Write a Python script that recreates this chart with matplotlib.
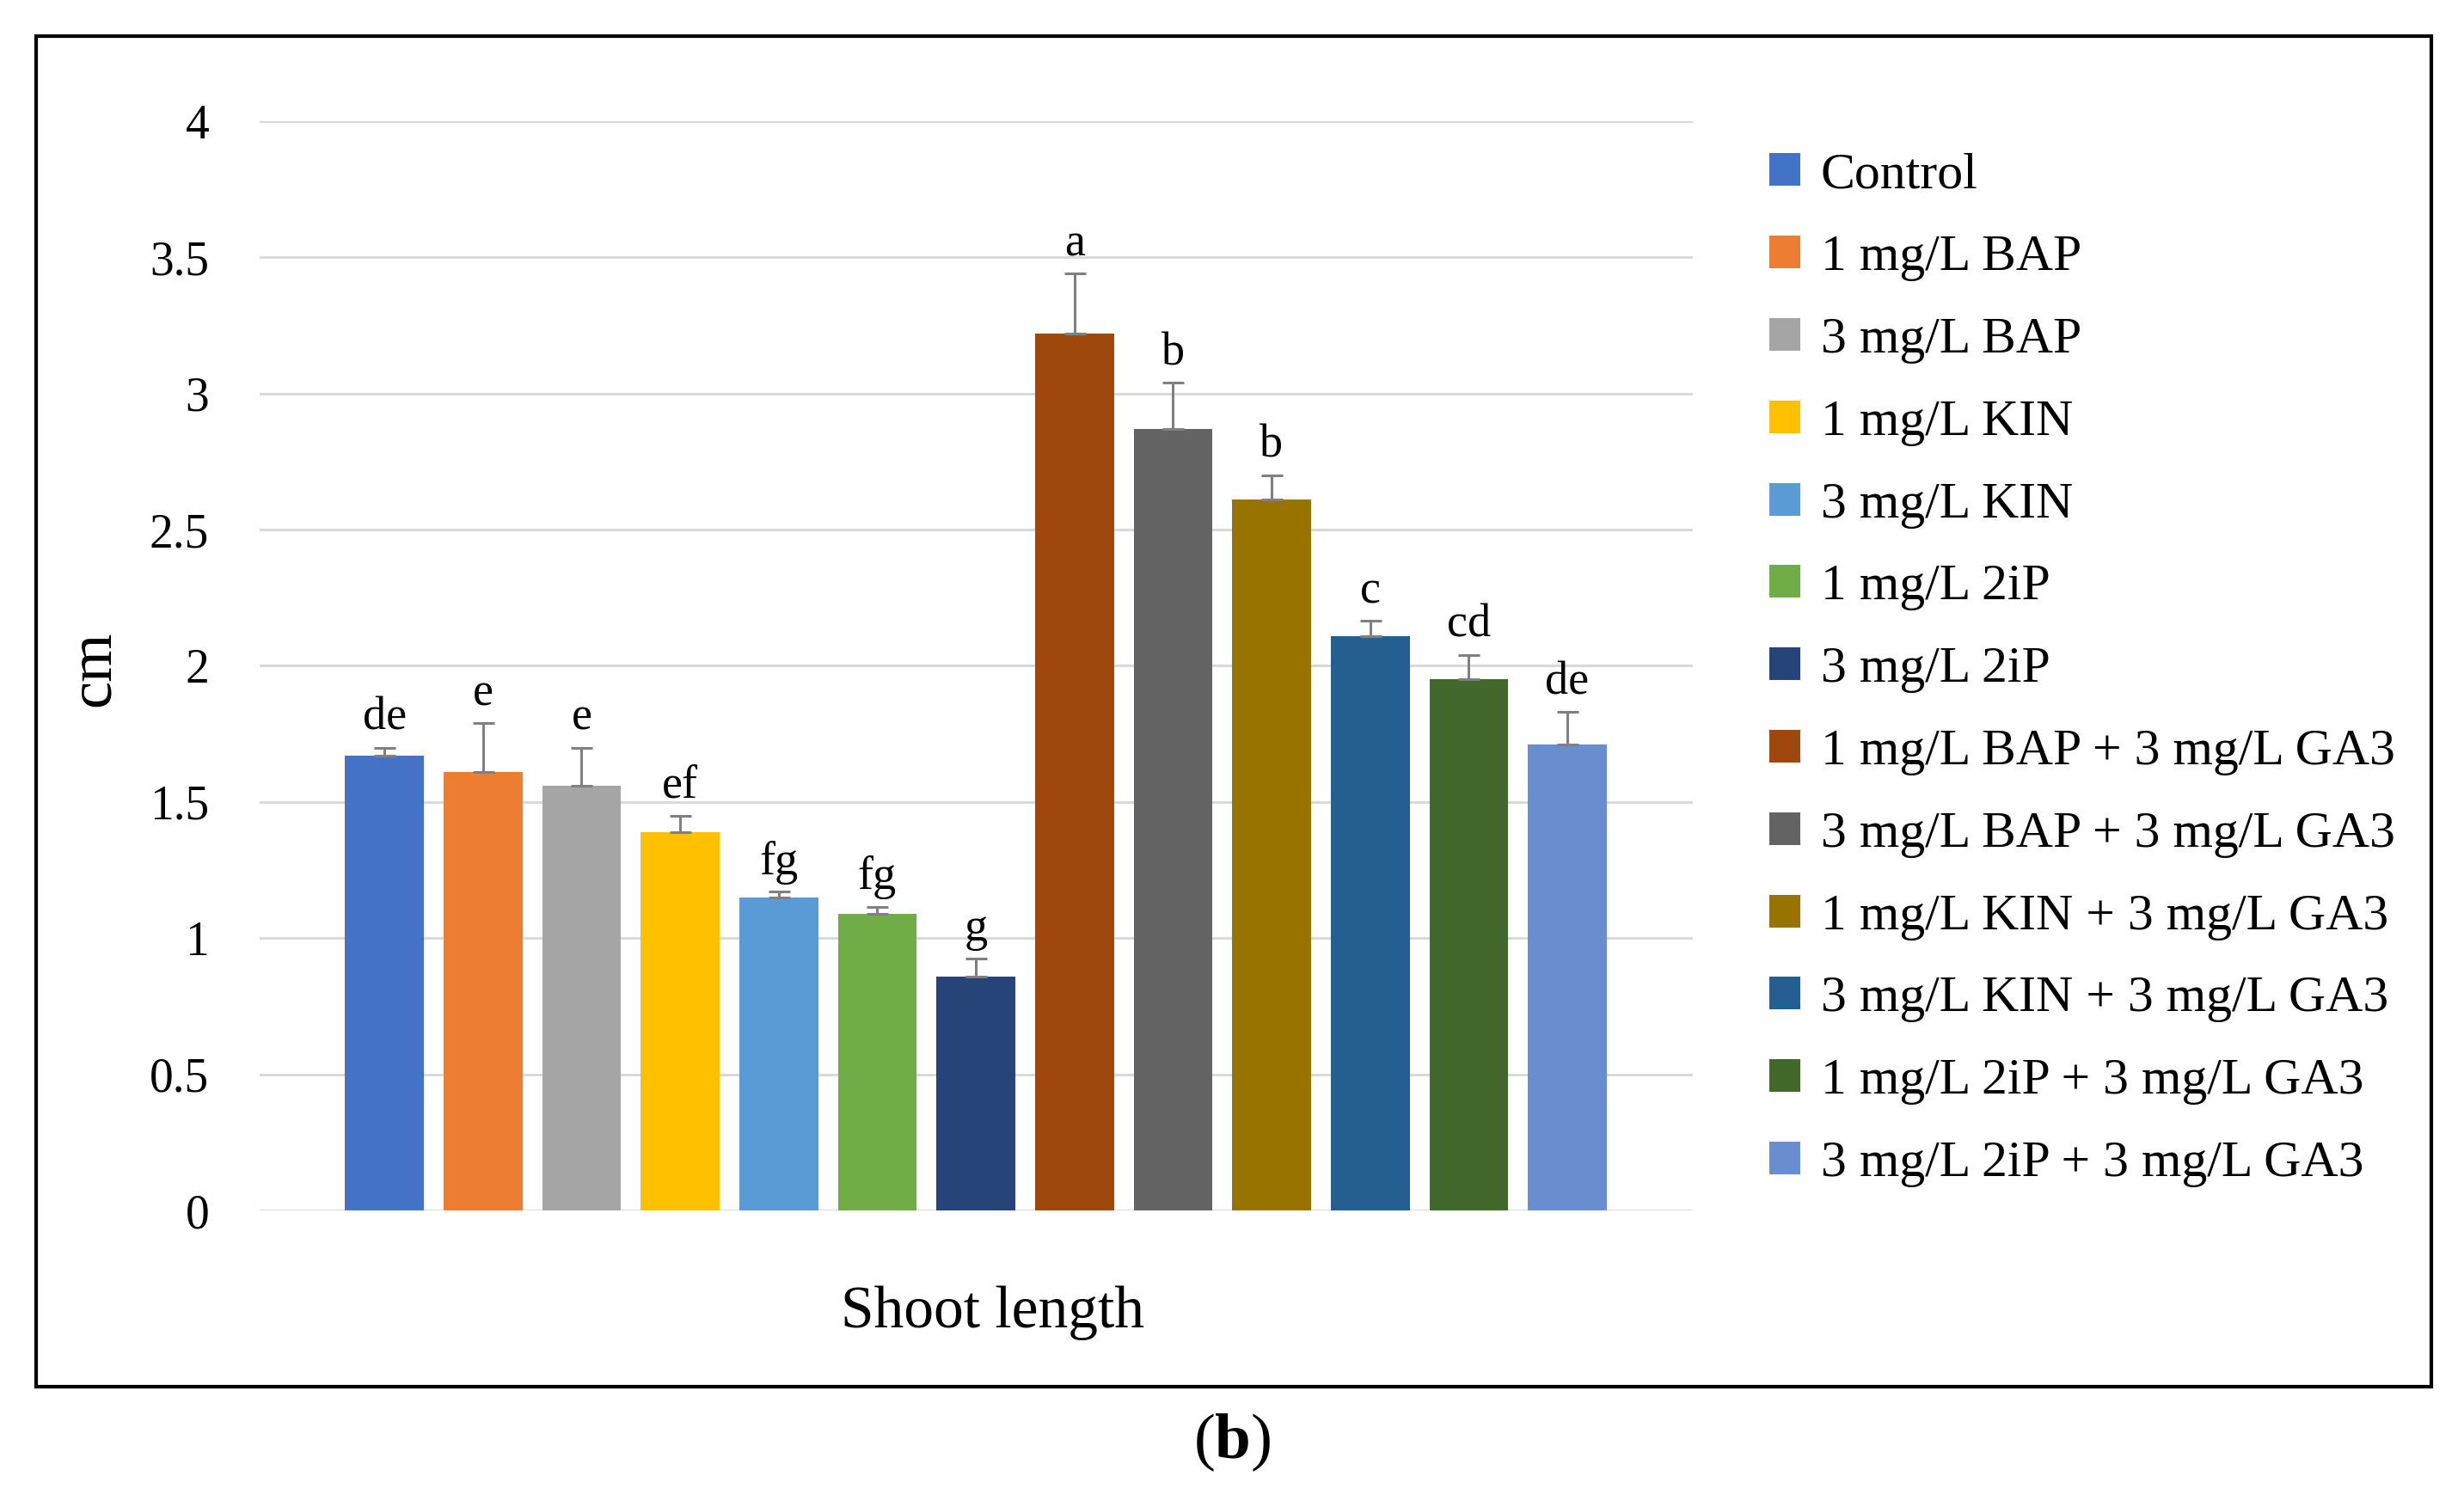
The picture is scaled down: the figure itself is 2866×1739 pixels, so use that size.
import numpy as np
import matplotlib
matplotlib.use("Agg")
import matplotlib.pyplot as plt
from matplotlib.patches import Rectangle

plt.rcParams['font.family'] = ['Liberation Serif', 'DejaVu Serif']
plt.rcParams['mathtext.fontset'] = 'custom'
plt.rcParams['mathtext.rm'] = 'Liberation Serif'
plt.rcParams['mathtext.bf'] = 'Liberation Serif:bold'

# data
treatments = ['Control', '1 mg/L BAP', '3 mg/L BAP', '1 mg/L KIN', '3 mg/L KIN',
              '1 mg/L 2iP', '3 mg/L 2iP',
              '1 mg/L BAP + 3 mg/L GA3', '3 mg/L BAP + 3 mg/L GA3',
              '1 mg/L KIN + 3 mg/L GA3', '3 mg/L KIN + 3 mg/L GA3',
              '1 mg/L 2iP + 3 mg/L GA3', '3 mg/L 2iP + 3 mg/L GA3']
means = [1.67, 1.61, 1.56, 1.39, 1.15, 1.09, 0.86, 3.22, 2.87, 2.61, 2.11, 1.95, 1.71]
errors = [0.03, 0.18, 0.14, 0.06, 0.02, 0.025, 0.065, 0.22, 0.17, 0.09, 0.055, 0.09, 0.12]
letters = ['de', 'e', 'e', 'ef', 'fg', 'fg', 'g', 'a', 'b', 'b', 'c', 'cd', 'de']
colors = ['#4472C4', '#ED7D31', '#A5A5A5', '#FFC000', '#5B9BD5', '#70AD47', '#264478',
          '#9E480E', '#636363', '#997300', '#255E91', '#43682B', '#698ED0']
yticks = [0, 0.5, 1, 1.5, 2, 2.5, 3, 3.5, 4]

fig = plt.figure(figsize=(28.66, 17.39), dpi=100)
ax = fig.add_axes([0.1052, 0.1903, 0.5817, 0.7287])

x = np.arange(len(means))
bars = []
for i in range(len(means)):
    b = ax.bar(x[i], means[i], width=0.8, color=colors[i], label=treatments[i], zorder=3)
    bars.append(b)
    ax.errorbar(x[i], means[i], yerr=[[0], [errors[i]]], fmt='none', ecolor='#808080',
                elinewidth=2.2, capsize=9, capthick=2.2, zorder=4)
    ax.annotate(letters[i], (x[i], means[i] + errors[i]), xytext=(0, 15),
                textcoords='offset points', ha='center', va='baseline', fontsize=39)

ax.set_xlim(-1.27, 13.27)
ax.set_ylim(0, 4)
ax.set_yticks(yticks)
ax.set_yticklabels([f'{t:g}' for t in yticks], fontsize=40)
ax.tick_params(axis='y', length=0, pad=42)
ax.set_xticks([])
ax.grid(axis='y', color='#d9d9d9', linewidth=2.2, zorder=0)
for sp in ax.spines.values():
    sp.set_visible(False)

fig.text(0.038, 0.553, 'cm', rotation=90, ha='center', va='center', fontsize=52)
fig.text(0.403, 0.122, 'Shoot length', ha='center', va='center', fontsize=50)
fig.text(0.5, 0.035, r'($\mathbf{b}$)', ha='center', va='center', fontsize=54)

fig.legend(handles=[b[0] for b in bars], labels=treatments, loc='upper left',
           bbox_to_anchor=(0.718, 0.898), frameon=False, fontsize=43,
           handlelength=0.6, handleheight=0.6, handletextpad=0.4,
           labelspacing=0.70, borderpad=0, borderaxespad=0)

fig.patches.append(Rectangle((0.0147, 0.0726), 0.9719, 0.9032, transform=fig.transFigure,
                             fill=False, edgecolor='black', linewidth=3, zorder=10))

fig.savefig('out.png', dpi=100)
